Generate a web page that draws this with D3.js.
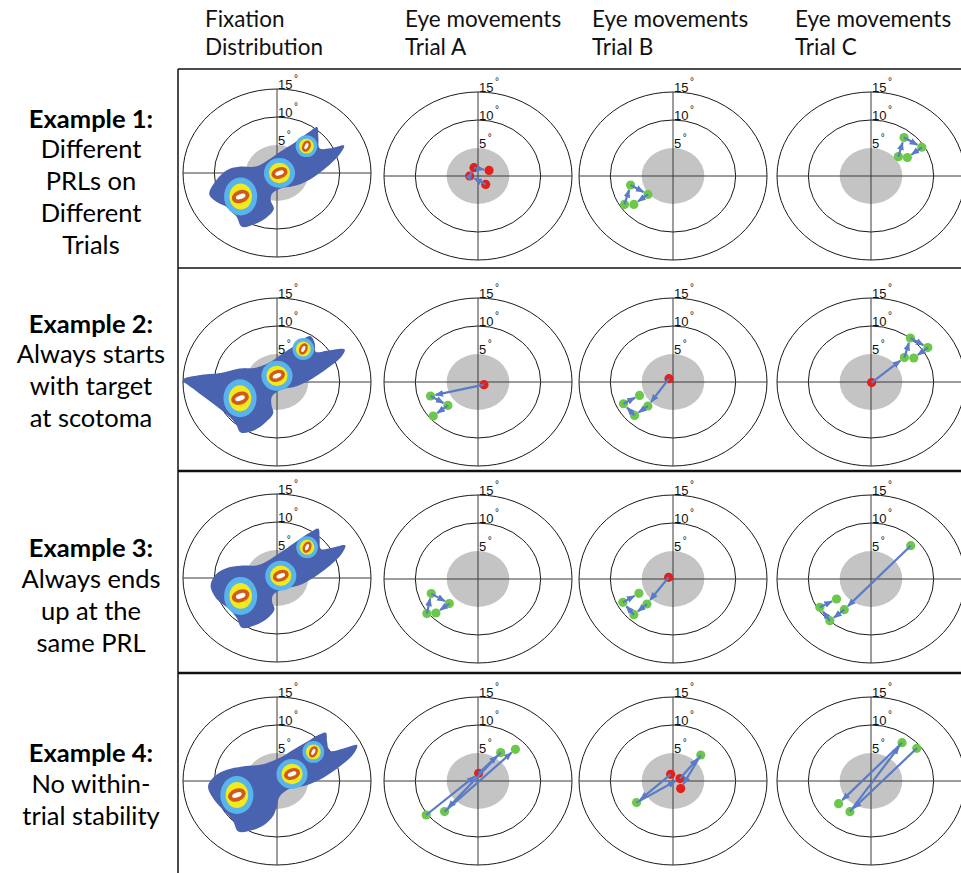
<!DOCTYPE html>
<html>
<head>
<meta charset="utf-8">
<script src="https://cdn.jsdelivr.net/npm/d3@7"></script>
<style>
  html, body { margin: 0; padding: 0; background: #fff; }
  svg { display: block; }
</style>
</head>
<body>
<svg id="fig" width="961" height="873"></svg>
<script>
// ---------- text ----------
const columnTitles = [
  ["Fixation", "Distribution"],
  ["Eye movements", "Trial A"],
  ["Eye movements", "Trial B"],
  ["Eye movements", "Trial C"]
];
const exampleHeads = ["Example 1:", "Example 2:", "Example 3:", "Example 4:"];
const exampleLines = [
  ["Different", "PRLs on", "Different", "Trials"],
  ["Always starts", "with target", "at scotoma"],
  ["Always ends", "up at the", "same PRL"],
  ["No within-", "trial stability"]
];

// ---------- polar grid (degrees of visual angle) ----------
const ringDegrees = [10, 15];
const ringLabels = [5, 10, 15];
const scotomaDeg = 5;

// ---------- fixation distributions ----------
// outline of the lowest density contour, [x, y] in degrees
const blob1 = [[-10.8,-3.8],[-9.9,-1.6],[-8.0,0.5],[-6.1,1.1],[-3.2,1.2],[-1.3,2.4],[0.5,3.8],[2.9,5.5],[5.1,7.3],[6.4,8.2],[6.6,6.4],[6.8,4.4],[8.5,4.4],[10.7,4.9],[10.1,3.5],[8.0,1.1],[5.9,-0.7],[3.2,-2.2],[0.5,-2.8],[-0.8,-3.7],[-1.0,-4.9],[-0.5,-6.4],[-1.6,-7.9],[-3.5,-9.1],[-5.6,-9.6],[-6.4,-7.9],[-7.5,-6.4],[-9.6,-5.2]];
const blob2 = [[-15.0,0.4],[-12.5,1.2],[-9.0,1.6],[-6.0,2.4],[-3.2,2.6],[-1.0,3.6],[0.8,5.0],[3.0,6.6],[5.3,8.2],[6.0,7.0],[6.2,5.4],[8.0,5.6],[10.8,5.8],[10.2,4.4],[8.0,2.4],[5.6,0.6],[3.0,-0.8],[0.6,-1.4],[-0.8,-2.6],[-0.9,-4.0],[-0.6,-5.6],[-1.8,-7.2],[-3.6,-8.6],[-5.8,-9.0],[-6.6,-7.4],[-8.0,-5.8],[-10.5,-3.6],[-13.0,-1.5]];
const blob3 = [[-10.6,-1.4],[-9.8,0.6],[-8.0,1.8],[-5.8,2.2],[-3.0,2.3],[-1.0,3.4],[0.9,4.8],[3.2,6.6],[5.4,8.2],[6.6,8.8],[6.8,7.0],[7.0,5.2],[8.8,5.4],[10.9,5.8],[10.3,4.3],[8.2,2.0],[6.0,0.2],[3.3,-1.4],[0.8,-2.0],[-0.6,-3.0],[-0.8,-4.2],[-0.4,-5.6],[-1.5,-7.2],[-3.4,-8.4],[-5.6,-8.9],[-6.4,-7.2],[-7.6,-5.6],[-9.6,-3.8]];
const blob4 = [[-11.0,-1.0],[-10.0,0.8],[-8.0,2.0],[-5.5,2.6],[-2.2,3.0],[0.2,4.0],[2.6,5.6],[4.8,7.0],[6.6,8.2],[7.8,8.6],[8.0,7.0],[8.4,5.4],[10.6,5.8],[12.8,6.4],[12.2,4.8],[9.8,2.4],[7.4,0.6],[4.6,-0.8],[2.0,-1.4],[0.4,-2.8],[0.0,-4.4],[-0.6,-6.2],[-2.0,-7.8],[-4.0,-8.8],[-6.2,-9.0],[-7.0,-7.2],[-8.2,-5.6],[-10.0,-3.4]];

// density peaks: [x, y, outer rx, outer ry, tilt of the core] (degrees)
const peaks1 = [[-5.8,-4.2,2.64,3.4,-20],[0.4,0.0,2.48,2.68,-20],[4.7,4.8,1.73,1.96,-65]];
const peaks2 = [[-5.9,-2.9,2.64,3.4,-20],[0.0,1.1,2.48,2.68,-20],[4.2,5.9,1.73,1.96,-65]];
const peaks3 = [[-5.8,-3.2,2.64,3.4,-20],[0.6,0.4,2.48,2.68,-20],[4.8,5.5,1.73,1.96,-65]];
const peaks4 = [[-6.4,-2.5,2.64,3.4,-20],[2.4,1.25,2.48,2.68,-20],[5.8,5.2,1.73,1.96,-65]];

// ---------- eye movement traces: [x, y, targetInScotoma] ----------
const trial1A = [[1.23,-1.5,1],[-1.33,0.0,1],[-0.64,1.48,1],[1.76,1.0,1]];
const trial1B = [[-7.73,-5.07,0],[-6.77,-1.61,0],[-4.0,-3.29,0],[-6.24,-5.07,0]];
const trial1C = [[4.37,3.46,0],[5.28,6.86,0],[8.11,5.13,0],[5.81,3.29,0]];

const trial2A = [[0.96,-0.48,1],[-7.57,-2.5,0],[-4.8,-4.18,0],[-7.14,-6.07,0]];
const trial2B = [[-0.64,0.59,1],[-4.0,-4.29,0],[-6.14,-5.96,0],[-7.9,-3.88,0],[-5.34,-2.39,0]];
const trial2C = [[0.1,-0.1,1],[5.33,4.36,0],[6.29,7.86,0],[9.07,6.14,0],[6.83,4.29,0]];

const trial3A = [[-8.16,-6.18,0],[-7.46,-2.61,0],[-4.58,-4.39,0],[-6.72,-6.07,0]];
const trial3B = [[-0.69,0.3,1],[-4.16,-4.46,0],[-6.24,-6.37,0],[-8.0,-4.17,0],[-5.44,-2.56,0]];
const trial3C = [[6.34,5.95,0],[-4.27,-5.48,0],[-6.56,-7.45,0],[-8.16,-5.05,0],[-5.5,-3.57,0]];

const trial4A = [[-8.27,-6.07,0],[0.1,1.38,1],[3.62,5.07,0],[-5.34,-5.46,0],[5.97,5.66,0]];
const trial4B = [[-0.37,1.2,1],[-5.81,-3.86,0],[1.12,0.43,1],[4.43,4.64,0],[1.23,-1.36,1]];
const trial4C = [[7.31,5.84,0],[-3.36,-5.48,0],[4.96,6.84,0],[-5.17,-4.05,0]];

const examples = [
  { blob: blob1, peaks: peaks1, trials: [trial1A, trial1B, trial1C] },
  { blob: blob2, peaks: peaks2, trials: [trial2A, trial2B, trial2C] },
  { blob: blob3, peaks: peaks3, trials: [trial3A, trial3B, trial3C] },
  { blob: blob4, peaks: peaks4, trials: [trial4A, trial4B, trial4C] }
];

// ---------- layout ----------
const colX = [277, 478, 673, 871];
const rowY = [176, 382, 579, 781];
const fixY = [173, 382, 578, 781];
const HALF_W = 94, HALF_H = 84;         // 15 deg ring half-axes (px)
const BOX_LEFT = 178;
const rowRules = [69, 268, 471, 673];
const headBase = [128, 333, 557, 762];  // bold example line
const noteBase = [158, 363, 588, 793];  // first descriptive line
const NOTE_STEP = 32;

const COL = {
  ring: "#1a1a1a", axis: "#3a3a3a", scotoma: "#c4c4c4",
  blob: "#4a63b0", lightBlue: "#58b5ec", yellow: "#f2ea1e", orange: "#d05b19",
  arrow: "#5a7bc8", green: "#6cc84a", red: "#e0211c"
};
const UI_FONT = "Lato, 'Open Sans', sans-serif";
const TICK_FONT = "'Liberation Sans', Arial, sans-serif";

const svg = d3.select("#fig");
const defs = svg.append("defs");
defs.append("marker")
  .attr("id", "head")
  .attr("viewBox", "0 0 10 8")
  .attr("refX", 9).attr("refY", 4)
  .attr("markerWidth", 8.5).attr("markerHeight", 7)
  .attr("markerUnits", "userSpaceOnUse")
  .attr("orient", "auto")
  .append("path").attr("d", "M0,0L10,4L0,8Z").attr("fill", COL.arrow);

function scalesAt(cx, cy) {
  return {
    x: d3.scaleLinear().domain([-15, 15]).range([cx - HALF_W, cx + HALF_W]),
    y: d3.scaleLinear().domain([-15, 15]).range([cy + HALF_H, cy - HALF_H])
  };
}

function drawGrid(g, s) {
  g.append("ellipse")
    .attr("cx", s.x(0)).attr("cy", s.y(0))
    .attr("rx", s.x(scotomaDeg) - s.x(0)).attr("ry", s.y(0) - s.y(scotomaDeg))
    .attr("fill", COL.scotoma);
  g.selectAll("ellipse.ring").data(ringDegrees).join("ellipse")
    .attr("class", "ring")
    .attr("cx", s.x(0)).attr("cy", s.y(0))
    .attr("rx", d => s.x(d) - s.x(0)).attr("ry", d => s.y(0) - s.y(d))
    .attr("fill", "none").attr("stroke", COL.ring).attr("stroke-width", 1);
  g.append("line")
    .attr("x1", s.x(-15)).attr("x2", s.x(15)).attr("y1", s.y(0)).attr("y2", s.y(0))
    .attr("stroke", COL.axis).attr("stroke-width", 1);
  g.append("line")
    .attr("x1", s.x(0)).attr("x2", s.x(0)).attr("y1", s.y(15)).attr("y2", s.y(-15))
    .attr("stroke", COL.axis).attr("stroke-width", 1);
}

function drawRingLabels(g, s) {
  const t = g.selectAll("text.deg").data(ringLabels).join("text")
    .attr("class", "deg")
    .attr("x", s.x(0) + 1).attr("y", d => s.y(d) - 0.5)
    .attr("font-family", TICK_FONT).attr("font-size", 13).attr("fill", "#111");
  t.append("tspan").text(d => d);
  t.append("tspan").attr("dx", 1.5).attr("dy", -7).attr("font-size", 10)
    .attr("fill", "#111").text("°");
}

function drawDistribution(g, s, ex) {
  const line = d3.line().x(d => s.x(d[0])).y(d => s.y(d[1]))
    .curve(d3.curveCatmullRomClosed.alpha(0.5));
  g.append("path").attr("d", line(ex.blob)).attr("fill", COL.blob);
  const kx = s.x(1) - s.x(0), ky = s.y(0) - s.y(1);
  ex.peaks.forEach(p => {
    const px = s.x(p[0]), py = s.y(p[1]);
    const rx = p[2] * kx, ry = p[3] * ky;
    const hg = g.append("g").attr("transform", `translate(${px},${py})`);
    hg.append("ellipse").attr("rx", rx).attr("ry", ry).attr("fill", COL.lightBlue);
    hg.append("ellipse").attr("rx", rx * 0.68).attr("ry", ry * 0.68).attr("fill", COL.yellow);
    const core = hg.append("g").attr("transform", `rotate(${p[4]})`);
    const cr = Math.min(rx, ry);
    core.append("ellipse").attr("rx", cr * 0.55).attr("ry", cr * 0.38).attr("fill", COL.orange);
    core.append("ellipse").attr("rx", cr * 0.3).attr("ry", cr * 0.15).attr("fill", "#fff");
  });
}

function drawTrace(g, s, pts) {
  const R = 4.6;
  const xy = pts.map(p => [s.x(p[0]), s.y(p[1]), p[2]]);
  const segs = d3.pairs(xy).map(([a, b]) => {
    const dx = b[0] - a[0], dy = b[1] - a[1];
    const L = Math.hypot(dx, dy);
    const k = Math.max(0, (L - R - 0.5) / L);
    return { x1: a[0], y1: a[1], x2: a[0] + dx * k, y2: a[1] + dy * k };
  });
  g.selectAll("circle.fix").data(xy).join("circle")
    .attr("class", "fix")
    .attr("cx", d => d[0]).attr("cy", d => d[1]).attr("r", R)
    .attr("fill", d => d[2] ? COL.red : COL.green);
  g.selectAll("line.sacc").data(segs).join("line")
    .attr("class", "sacc")
    .attr("x1", d => d.x1).attr("y1", d => d.y1)
    .attr("x2", d => d.x2).attr("y2", d => d.y2)
    .attr("stroke", COL.arrow).attr("stroke-width", 2.2)
    .attr("marker-end", "url(#head)");
}

// ---------- panels ----------
examples.forEach((ex, r) => {
  // fixation distribution
  const s0 = scalesAt(colX[0], fixY[r]);
  const g0 = svg.append("g");
  drawGrid(g0, s0);
  drawDistribution(g0, s0, ex);
  drawRingLabels(g0, s0);
  // individual trials
  ex.trials.forEach((tr, c) => {
    const s = scalesAt(colX[c + 1], rowY[r]);
    const g = svg.append("g");
    drawGrid(g, s);
    drawRingLabels(g, s);
    drawTrace(g, s, tr);
  });
});

// ---------- frame ----------
svg.selectAll("line.rule").data(rowRules).join("line")
  .attr("class", "rule")
  .attr("x1", BOX_LEFT).attr("x2", 961)
  .attr("y1", d => d).attr("y2", d => d)
  .attr("stroke", "#111").attr("stroke-width", (d, i) => i >= 2 ? 2.5 : 1.5);
svg.append("line")
  .attr("x1", BOX_LEFT).attr("x2", BOX_LEFT).attr("y1", rowRules[0]).attr("y2", 873)
  .attr("stroke", "#111").attr("stroke-width", 1.5);

// ---------- column titles ----------
const titleX = [205, 405, 592, 795];
columnTitles.forEach((lines, i) => {
  const t = svg.append("text")
    .attr("font-family", UI_FONT).attr("font-size", 22.5).attr("fill", "#111");
  lines.forEach((ln, j) => {
    t.append("tspan").attr("x", titleX[i]).attr("y", 27 + j * 28).text(ln);
  });
});

// ---------- example labels ----------
exampleHeads.forEach((head, i) => {
  const g = svg.append("g")
    .attr("font-family", UI_FONT).attr("font-size", 25.5).attr("fill", "#000")
    .attr("text-anchor", "middle");
  g.append("text").attr("x", 91).attr("y", headBase[i])
    .attr("font-weight", "bold").text(head);
  exampleLines[i].forEach((ln, j) => {
    g.append("text").attr("x", 91).attr("y", noteBase[i] + NOTE_STEP * j).text(ln);
  });
});
</script>
</body>
</html>
